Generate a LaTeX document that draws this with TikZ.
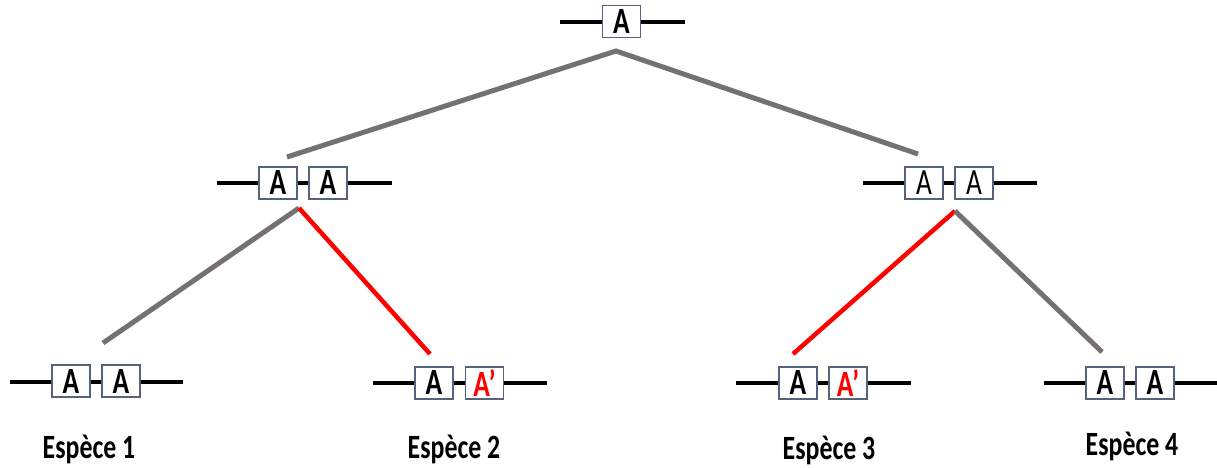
\documentclass[tikz,border=0pt]{standalone}
\usepackage{fontspec}
\newfontfamily\calb[FakeStretch=0.74]{Carlito}
\newfontfamily\calc[FakeStretch=0.76]{Carlito}
\definecolor{boxc}{RGB}{84,100,122}
\definecolor{treeg}{RGB}{118,113,113}
\definecolor{myred}{RGB}{255,0,0}
\begin{document}
\begin{tikzpicture}[x=1pt,y=-1pt,
  gene/.style={draw=boxc,line width=1.2pt,fill=white,minimum width=38pt,minimum height=32pt,inner sep=0pt,font=\calb\fontsize{37}{37}\selectfont\bfseries},
  genereg/.style={gene,font=\calb\fontsize{37}{37}\selectfont},
  chrom/.style={line width=4pt,black},
  grayb/.style={line width=5pt,treeg},
  redb/.style={line width=4.5pt,myred},
  lab/.style={font=\calc\fontsize{34}{34}\selectfont\bfseries,inner sep=0pt}]
\useasboundingbox (0,0) rectangle (1217,468);
% top
\coordinate (c0l) at (560,22); \coordinate (c0r) at (685,22);
\draw[chrom] (c0l) -- (c0r);
\node[gene] (g0) at (621.5,21.5) {A};
% middle left
\coordinate (c1l) at (217,183); \coordinate (c1r) at (392,183);
\draw[chrom] (c1l) -- (c1r);
\node[gene] (g1a) at (278,183) {A};
\node[gene] (g1b) at (328,183) {A};
% middle right
\coordinate (c2l) at (863,183); \coordinate (c2r) at (1037,183);
\draw[chrom] (c2l) -- (c2r);
\node[genereg] (g2a) at (924,183) {A};
\node[genereg] (g2b) at (974,183) {A};
% bottom 1
\coordinate (c3l) at (10,382); \coordinate (c3r) at (183,382);
\draw[chrom] (c3l) -- (c3r);
\node[gene] (g3a) at (71,381) {A};
\node[gene] (g3b) at (121,381) {A};
% bottom 2
\coordinate (c4l) at (373,383); \coordinate (c4r) at (547,383);
\draw[chrom] (c4l) -- (c4r);
\node[gene] (g4a) at (434,383) {A};
\node[gene,text=myred] (g4b) at (484.5,383) {A’};
% bottom 3
\coordinate (c5l) at (736,383); \coordinate (c5r) at (911,383);
\draw[chrom] (c5l) -- (c5r);
\node[gene] (g5a) at (798,383) {A};
\node[gene,text=myred] (g5b) at (848,383) {A’};
% bottom 4
\coordinate (c6l) at (1044,383); \coordinate (c6r) at (1217,383);
\draw[chrom] (c6l) -- (c6r);
\node[gene] (g6a) at (1105,383) {A};
\node[gene] (g6b) at (1155,383) {A};
% labels
\node[lab] (l1) at (89,449) {Espèce 1};
\node[lab] (l2) at (454,449) {Espèce 2};
\node[lab] (l3) at (829,450) {Espèce 3};
\node[lab] (l4) at (1132,446) {Espèce 4};
% tree
\coordinate (t0) at (616,51);
\coordinate (t1) at (287,157);
\coordinate (t2) at (918,154);
\coordinate (a1) at (299,208);
\coordinate (a2) at (955,211);
\coordinate (e1) at (103,343);
\coordinate (e2) at (430,354);
\coordinate (e3) at (793,354);
\coordinate (e4) at (1102,352);
\draw[grayb] (t1) -- (t0) -- (t2);
\draw[grayb] (a1) -- (e1);
\draw[redb] (a1) -- (e2);
\draw[redb] (a2) -- (e3);
\draw[grayb] (a2) -- (e4);
\end{tikzpicture}
\end{document}
